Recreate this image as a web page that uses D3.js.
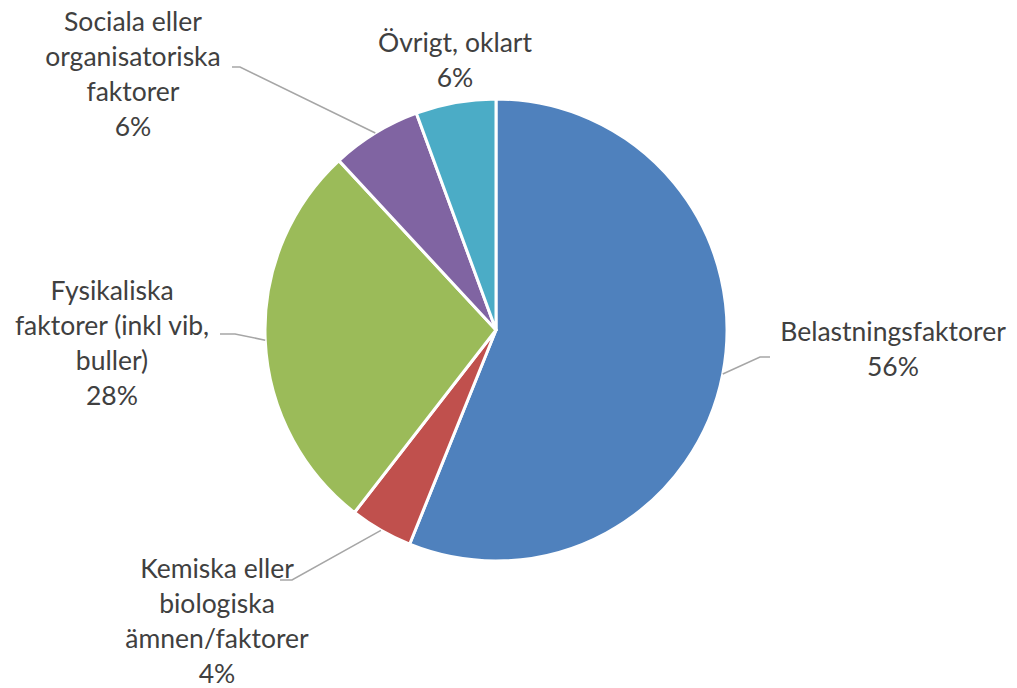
<!DOCTYPE html>
<html lang="sv">
<head>
    <meta charset="UTF-8">
    <title>Orsaker</title>
    <script src="https://d3js.org/d3.v7.min.js"></script>
    <style>
        body { margin: 0; background: #fff; }
    </style>
</head>
<body>
    <svg width="1017" height="688"></svg>

    <script>
        // Data (share of cases, %)
        const categories = [
            "Belastningsfaktorer",
            "Kemiska eller biologiska ämnen/faktorer",
            "Fysikaliska faktorer (inkl vib, buller)",
            "Sociala eller organisatoriska faktorer",
            "Övrigt, oklart"
        ];
        const values = [56.1, 4.4, 27.6, 6.3, 5.6];
        const labelLines = [
            ["Belastningsfaktorer"],
            ["Kemiska eller", "biologiska", "ämnen/faktorer"],
            ["Fysikaliska", "faktorer (inkl vib,", "buller)"],
            ["Sociala eller", "organisatoriska", "faktorer"],
            ["Övrigt, oklart"]
        ];
        const colors = ["#4f81bd", "#c0504d", "#9bbb59", "#8064a2", "#4bacc6"];

        // label layout: centre x, first line y, leader elbow (null = no leader)
        const labelPos = [
            {x: 893, y: 332, elbow: [[770, 357], [760, 357]]},
            {x: 217, y: 569, elbow: [[280, 580], [292, 580]]},
            {x: 112, y: 291, elbow: [[220, 334], [235, 334]]},
            {x: 133, y: 22,  elbow: [[232, 67], [240, 67]]},
            {x: 455, y: 43,  elbow: null}
        ];

        const width = 1017, height = 688;
        const cx = 496, cy = 330, radius = 231;
        const lineH = 35;

        const svg = d3.select("svg");
        const g = svg.append("g").attr("transform", `translate(${cx},${cy})`);

        const pie = d3.pie().sort(null).value(d => d)(values);
        const arc = d3.arc().innerRadius(0).outerRadius(radius);

        g.selectAll("path.slice")
            .data(pie)
            .enter()
            .append("path")
            .attr("class", "slice")
            .attr("d", arc)
            .attr("fill", (d, i) => colors[i])
            .attr("stroke", "#fff")
            .attr("stroke-width", 3)
            .attr("stroke-linejoin", "round");

        const total = d3.sum(values);

        // leader lines
        pie.forEach((d, i) => {
            const p = labelPos[i];
            if (!p.elbow) return;
            const mid = (d.startAngle + d.endAngle) / 2;
            const ex = cx + radius * Math.sin(mid);
            const ey = cy - radius * Math.cos(mid);
            const pts = p.elbow.concat([[ex, ey]]);
            svg.append("path")
                .attr("d", d3.line()(pts))
                .attr("fill", "none")
                .attr("stroke", "#a6a6a6")
                .attr("stroke-width", 1.5);
        });

        // labels
        pie.forEach((d, i) => {
            const p = labelPos[i];
            const lines = labelLines[i].concat([Math.round(values[i] / total * 100) + "%"]);
            const t = svg.append("text")
                .attr("text-anchor", "middle")
                .attr("font-family", "Lato, 'Open Sans', sans-serif")
                .attr("font-size", "26.5px")
                .attr("fill", "#404040");
            lines.forEach((s, k) => {
                t.append("tspan")
                    .attr("x", p.x)
                    .attr("y", p.y + k * lineH)
                    .attr("dy", "0.35em")
                    .text(s);
            });
        });
    </script>
</body>
</html>
